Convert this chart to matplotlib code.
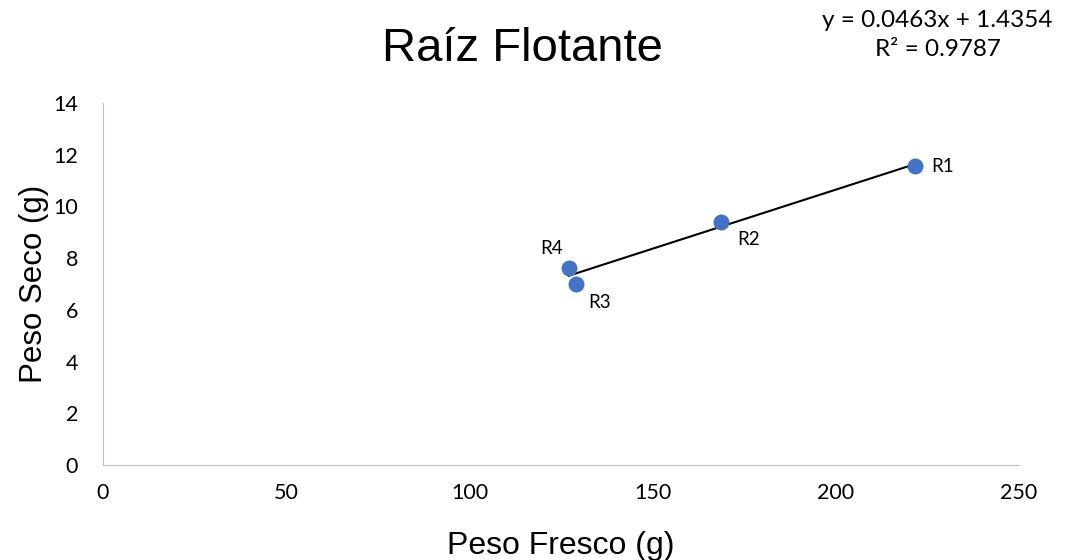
import numpy as np
import matplotlib.pyplot as plt

# Datos
etiquetas = ['R1', 'R2', 'R3', 'R4']
peso_fresco = [221.6, 168.6, 129.0, 127.1]
peso_seco = [11.56, 9.41, 7.00, 7.61]
ecuacion = 'y = 0.0463x + 1.4354\nR² = 0.9787'

fig = plt.figure(figsize=(10.68, 5.6), dpi=100)
ax = fig.add_axes([0.0964, 0.1696, 0.8577, 0.6464])

ax.scatter(peso_fresco, peso_seco, s=110, color='#4472C4', zorder=3)

# línea de tendencia lineal
m, b = np.polyfit(peso_fresco, peso_seco, 1)
xs = np.array([min(peso_fresco), max(peso_fresco)])
ax.plot(xs, m * xs + b, color='black', lw=1.5, zorder=2)

desplaz = {'R1': (12, 0, 'left', 'center'),
           'R2': (12, -7, 'left', 'top'),
           'R3': (9, -7, 'left', 'top'),
           'R4': (-4, 8, 'right', 'bottom')}
for et, x, y in zip(etiquetas, peso_fresco, peso_seco):
    dx, dy, ha, va = desplaz[et]
    ax.annotate(et, (x, y), xytext=(dx, dy), textcoords='offset points',
                ha=ha, va=va, fontsize=13.5, family='Lato')

ax.set_xlim(0, 250)
ax.set_ylim(0, 14)
ax.set_xticks(range(0, 251, 50))
ax.set_yticks(range(0, 15, 2))
ax.tick_params(length=0, labelsize=15.5)
ax.tick_params(axis='x', pad=13)
ax.tick_params(axis='y', pad=18)
for lab in ax.get_xticklabels() + ax.get_yticklabels():
    lab.set_family('Lato')
for s in ['top', 'right']:
    ax.spines[s].set_visible(False)
for s in ['left', 'bottom']:
    ax.spines[s].set_color('#bfbfbf')

ax.set_xlabel('Peso Fresco (g)', fontsize=23, family='Liberation Sans', labelpad=20)
ax.set_ylabel('Peso Seco (g)', fontsize=22.5, family='Liberation Sans', labelpad=3)

fig.text(0.489, 0.913, 'Raíz Flotante', fontsize=34, family='Liberation Sans',
         ha='center', va='center')
fig.text(0.878, 0.937, ecuacion, fontsize=17.5, family='Lato', ha='center',
         va='center', linespacing=1.45)

fig.savefig('out.png', dpi=100)
